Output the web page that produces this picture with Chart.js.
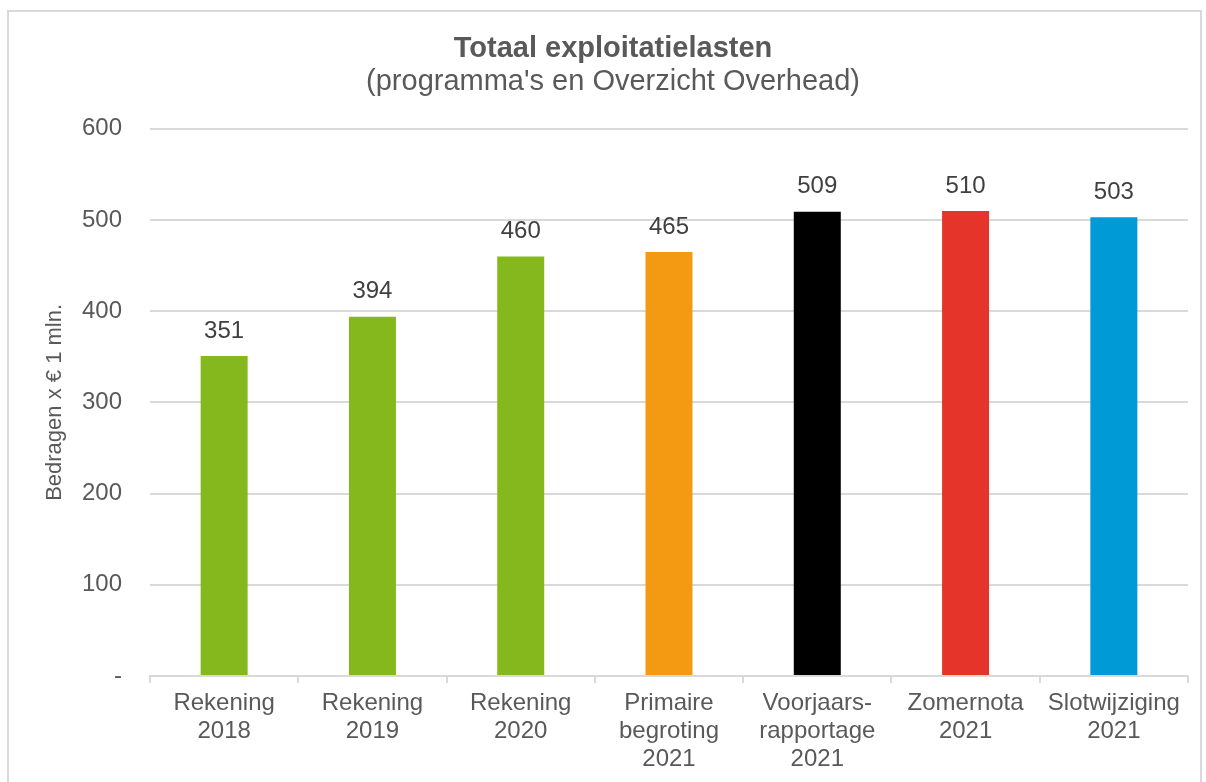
<!DOCTYPE html>
<html>
<head>
<meta charset="utf-8">
<script src="https://cdn.jsdelivr.net/npm/chart.js@4.4.1/dist/chart.umd.min.js"></script>
<style>
	html, body { margin: 0; padding: 0; background: #fff; }
	#wrap { position: relative; width: 1206px; height: 782px; overflow: hidden; }
	#frame { position: absolute; left: 7px; top: 10px; width: 1195px; height: 800px; border: 2px solid #d9d9d9; box-sizing: border-box; }
	#c { position: absolute; left: 0; top: 0; }
</style>
</head>
<body>
<div id="wrap">
	<div id="frame"></div>
	<canvas id="c" width="1206" height="782"></canvas>
</div>
<script>
var categories 	= [["Rekening","2018"], ["Rekening","2019"], ["Rekening","2020"], ["Primaire","begroting","2021"], ["Voorjaars-","rapportage","2021"], ["Zomernota","2021"], ["Slotwijziging","2021"]];
var values 		= [351, 394, 460, 465, 509, 510, 503];
var bar_colors 	= ["#85b81c", "#85b81c", "#85b81c", "#f39a12", "#000000", "#e5352b", "#009ad6"];
var y_ticks 	= [0, 100, 200, 300, 400, 500, 600];
var y_tick_labels = ["-", "100", "200", "300", "400", "500", "600"];

var textcol = "#595959";
var gridcol = "#d9d9d9";
var fam = "'Liberation Sans', Arial, sans-serif";

// values above the bars
var valueLabels = {
	id: 'valueLabels',
	afterDatasetsDraw: function(chart) {
		var ctx = chart.ctx;
		var meta = chart.getDatasetMeta(0);
		ctx.save();
		ctx.font = "24px " + fam;
		ctx.fillStyle = "#404040";
		ctx.textAlign = "center";
		ctx.textBaseline = "middle";
		for(var i=0; i<meta.data.length; i++) {
			var el = meta.data[i];
			ctx.fillText(values[i], el.x, el.y - 25);
		}
		ctx.restore();
	}
};

var myChart = new Chart(document.getElementById("c"), {
	type: 'bar',
	data: {
		labels: categories,
		datasets: [{
			data: values,
			backgroundColor: bar_colors,
			categoryPercentage: 1,
			barPercentage: 0.317
		}]
	},
	options: {
		responsive: false,
		animation: false,
		devicePixelRatio: 1,
		layout: { padding: { top: 33, left: 38, right: 18, bottom: 0 } },
		plugins: {
			legend: { display: false },
			tooltip: { enabled: false },
			title: {
				display: true,
				text: "Totaal exploitatielasten",
				color: textcol,
				font: { family: fam, size: 29, weight: 'bold', lineHeight: 1.1 },
				padding: { top: 0, bottom: 1 }
			},
			subtitle: {
				display: true,
				text: "(programma's en Overzicht Overhead)",
				color: textcol,
				font: { family: fam, size: 29, lineHeight: 1.1 },
				padding: { top: 0, bottom: 31 }
			}
		},
		scales: {
			x: {
				grid: { display: true, drawOnChartArea: false, offset: true, color: gridcol, lineWidth: 2, tickLength: 7 },
				border: { display: true, color: gridcol, width: 2 },
				ticks: { color: textcol, padding: 6, maxRotation: 0, autoSkip: false,
					font: { family: fam, size: 24, lineHeight: 1.17 } },
				afterFit: function(scale) { scale.height = 106; }
			},
			y: {
				min: 0,
				max: 600,
				afterBuildTicks: function(scale) {
					scale.ticks = y_ticks.map(function(v) { return { value: v }; });
				},
				grid: { color: function(c) { return c.tick && c.tick.value === 0 ? 'rgba(0,0,0,0)' : gridcol; }, lineWidth: 2, drawTicks: false },
				border: { display: false },
				ticks: {
					color: textcol, padding: 28,
					font: { family: fam, size: 24 },
					callback: function(v) { return y_tick_labels[y_ticks.indexOf(v)]; }
				},
				title: {
					display: true,
					text: "Bedragen x € 1 mln.",
					color: textcol,
					font: { family: fam, size: 22, lineHeight: 1.2 },
					padding: { top: 4, bottom: 0 }
				},
				afterFit: function(scale) { scale.width = 112; }
			}
		}
	},
	plugins: [valueLabels]
});
</script>
</body>
</html>
